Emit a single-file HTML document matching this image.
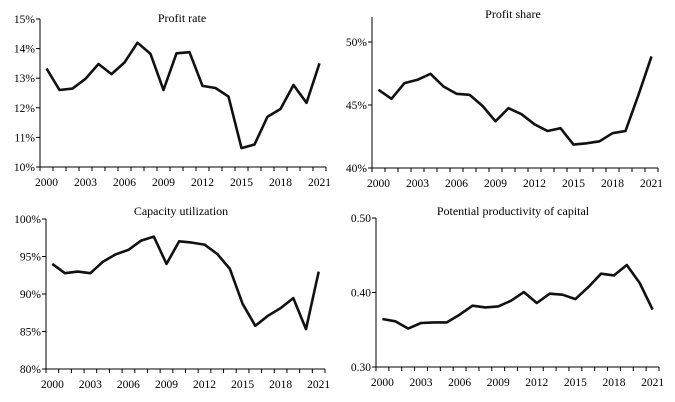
<!DOCTYPE html>
<html><head><meta charset="utf-8"><style>
html,body{margin:0;padding:0;background:#fff;}
svg{display:block;font-family:"Liberation Serif",serif;}
</style></head><body>
<svg id="c" width="675" height="402" viewBox="0 0 675 402"></svg>
<script>
const years = [2000,2001,2002,2003,2004,2005,2006,2007,2008,2009,2010,2011,2012,2013,2014,2015,2016,2017,2018,2019,2020,2021];
const yearLabels = ["2000","2003","2006","2009","2012","2015","2018","2021"];
const profitRate = [13.33,12.60,12.65,12.98,13.48,13.14,13.53,14.20,13.82,12.60,13.84,13.88,12.74,12.67,12.38,10.64,10.76,11.70,11.96,12.77,12.17,13.50];
const profitShare = [46.21,45.49,46.74,47.0,47.48,46.47,45.89,45.81,44.93,43.71,44.75,44.27,43.47,42.94,43.16,41.86,41.96,42.12,42.76,42.94,45.81,48.86];
const capacityUtil = [94.01,92.77,92.99,92.77,94.32,95.30,95.88,97.12,97.65,94.01,97.03,96.85,96.59,95.34,93.35,88.69,85.76,87.09,88.12,89.45,85.32,92.99];
const capitalProd = [0.3644,0.3613,0.3515,0.3590,0.3599,0.3599,0.3702,0.3823,0.3800,0.3814,0.3890,0.4006,0.3859,0.3984,0.3970,0.3912,0.4073,0.4253,0.4230,0.4369,0.4128,0.3770];
const ticksRate = [10,11,12,13,14,15];
const ticksShare = [40,45,50];
const ticksCap = [80,85,90,95,100];
const ticksProd = [0.30,0.40,0.50];

const NS = "http://www.w3.org/2000/svg";
const svg = document.getElementById('c');
function mk(tag, attrs, parent){
  const e = document.createElementNS(NS, tag);
  for (const k in attrs) e.setAttribute(k, attrs[k]);
  (parent||svg).appendChild(e);
  return e;
}
function panel(cfg){
  const g = mk('g', {});
  
  
  const {x0,x1,yTop,yAxisTop,yBot,vMin,vMax} = cfg;
  const n = years.length;
  const step = (x1-x0)/n;
  const xs = i => x0 + step*(i+0.5);
  const ys = v => yBot - (v-vMin)/(vMax-vMin)*(yBot-yTop);
  const ax = mk('path', {d:`M${x0},${yAxisTop}V${yBot}H${x1}`, fill:'none', stroke:'#000', 'stroke-width':1}, g);
  
  
  for (let i=0;i<=n;i++){
    mk('line', {x1:x0+step*i, x2:x0+step*i, y1:yBot, y2:yBot+4, stroke:'#000','stroke-width':1}, g);
  }
  years.forEach((yr,i)=>{
    if (yearLabels.includes(String(yr))){
      const t = mk('text', {x:xs(i), y:yBot+19, 'text-anchor':'middle', 'font-size':11.5, fill:'#000'}, g);
      t.textContent = String(yr);
      
      
    }
  });
  cfg.ticks.forEach(v=>{
    const y = ys(v);
    mk('line', {x1:x0-4, x2:x0, y1:y, y2:y, stroke:'#000','stroke-width':1}, g);
    const t = mk('text', {x:x0-5, y:y+4, 'text-anchor':'end', 'font-size':11.5, fill:'#000'}, g);
    t.textContent = cfg.fmt(v);
    
    
  });
  const d = cfg.data.map((v,i)=>(i?'L':'M')+xs(i).toFixed(1)+','+ys(v).toFixed(1)).join('');
  const p = mk('path', {d, fill:'none', stroke:'#111', 'stroke-width':2.6, 'stroke-linejoin':'round'}, g);
  
  
  const t = mk('text', {x:cfg.tx, y:cfg.ty, 'text-anchor':'middle', 'font-size':12, fill:'#000'}, g);
  t.textContent = cfg.title;
  
  
}
panel({name:'profit-rate-panel', title:'Profit rate', tx:182, ty:22, x0:40, x1:326, yTop:19, yAxisTop:19, yBot:167, vMin:10, vMax:15, data:profitRate, ticks:ticksRate, fmt:v=>v+'%'});
panel({name:'profit-share-panel', title:'Profit share', tx:513, ty:18, x0:372, x1:658, yTop:42, yAxisTop:17, yBot:168, vMin:40, vMax:50, data:profitShare, ticks:ticksShare, fmt:v=>v+'%'});
panel({name:'capacity-utilization-panel', title:'Capacity utilization', tx:181, ty:215, x0:46, x1:325, yTop:219, yAxisTop:219, yBot:369, vMin:80, vMax:100, data:capacityUtil, ticks:ticksCap, fmt:v=>v+'%'});
panel({name:'capital-productivity-panel', title:'Potential productivity of capital', tx:513, ty:215, x0:376, x1:659, yTop:218, yAxisTop:218, yBot:367, vMin:0.30, vMax:0.50, data:capitalProd, ticks:ticksProd, fmt:v=>v.toFixed(2)});
</script>
</body></html>
